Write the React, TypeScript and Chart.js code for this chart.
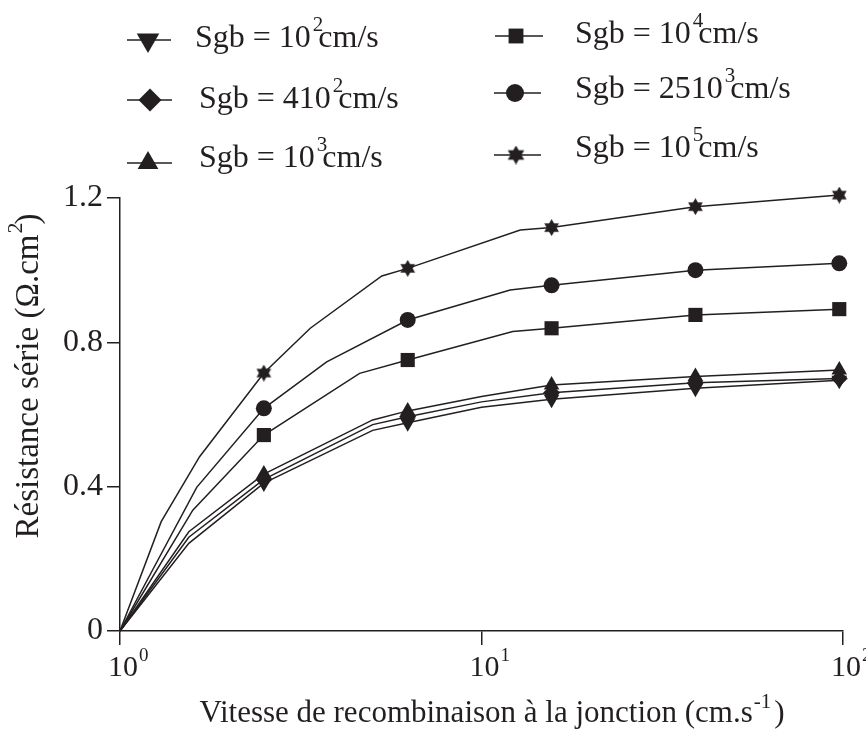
import React, { useEffect, useRef } from 'react';
import { Chart, registerables } from 'chart.js';
import { drawPoint } from 'chart.js/helpers';

Chart.register(...registerables);

const INK = '#231f20';
const FONT = '"Liberation Serif", "Times New Roman", serif';

// Recombination velocity at the junction (cm/s) where markers are drawn
const markerX = [2.5, 6.25, 15.625, 39.0625, 97.65625];

// Axis ticks
const xTickValues = [1, 10, 100];
const xTickExponents = ['0', '1', '2'];
const yTickValues = [0, 0.4, 0.8, 1.2];
const yTickLabels = ['0', '0.4', '0.8', '1.2'];

// Series resistance (Ω.cm²) for each grain-boundary recombination velocity
const sgb1e2X = [1, 1.55, 2.5, 5, 6.25, 10, 15.625, 39.0625, 97.65625];
const sgb1e2Y = [0, 0.243, 0.41, 0.556, 0.577, 0.62, 0.642, 0.673, 0.695];

const sgb4e2X = [1, 1.55, 2.5, 5, 6.25, 10, 15.625, 39.0625, 97.65625];
const sgb4e2Y = [0, 0.26, 0.42, 0.572, 0.594, 0.635, 0.66, 0.688, 0.7];

const sgb1e3X = [1, 1.55, 2.5, 5, 6.25, 10, 15.625, 39.0625, 97.65625];
const sgb1e3Y = [0, 0.275, 0.435, 0.585, 0.61, 0.65, 0.682, 0.705, 0.723];

const sgb1e4X = [1, 1.59, 2.5, 4.6, 6.25, 12.2, 15.625, 39.0625, 97.65625];
const sgb1e4Y = [0, 0.335, 0.543, 0.714, 0.751, 0.83, 0.839, 0.876, 0.892];

const sgb25e3X = [1, 1.63, 2.5, 3.73, 6.25, 12, 15.625, 39.0625, 97.65625];
const sgb25e3Y = [0, 0.398, 0.617, 0.746, 0.862, 0.945, 0.958, 1.0, 1.019];

const sgb1e5X = [1, 1.3, 1.66, 2.5, 3.36, 5.3, 6.25, 12.8, 15.625, 39.0625, 97.65625];
const sgb1e5Y = [0, 0.303, 0.483, 0.715, 0.839, 0.984, 1.005, 1.111, 1.118, 1.176, 1.208];

// Legend text: "Sgb = <mantissa>10^<exp> cm/s"
const legendBase = ['Sgb = 10', 'Sgb = 410', 'Sgb = 10', 'Sgb = 10', 'Sgb = 2510', 'Sgb = 10'];
const legendExp = ['2', '2', '3', '4', '3', '5'];
const legendUnit = 'cm/s';

const xTitleMain = 'Vitesse de recombinaison à la jonction (cm.s';
const xTitleExp = '-1';
const xTitleEnd = ')';
const yTitleMain = 'Résistance série (Ω.cm';
const yTitleExp = '2';
const yTitleEnd = ')';

type Part = { text: string; sup?: boolean; dx?: number };

function drawRich(
  ctx: CanvasRenderingContext2D,
  parts: Part[],
  x: number,
  y: number,
  size: number,
  supSize: number,
  raise: number,
  align: 'left' | 'center'
) {
  const widths = parts.map((p) => {
    ctx.font = `${p.sup ? supSize : size}px ${FONT}`;
    return ctx.measureText(p.text).width;
  });
  const total = parts.reduce((a, p, i) => a + (p.dx ?? 0) + widths[i], 0);
  let cx = align === 'center' ? x - total / 2 : x;
  ctx.textAlign = 'left';
  ctx.textBaseline = 'alphabetic';
  parts.forEach((p, i) => {
    cx += p.dx ?? 0;
    ctx.font = `${p.sup ? supSize : size}px ${FONT}`;
    ctx.fillText(p.text, cx, p.sup ? y - raise : y);
    cx += widths[i];
  });
}

function makeStar(size: number) {
  const c = document.createElement('canvas');
  c.width = size;
  c.height = size;
  const g = c.getContext('2d')!;
  const r = size / 2;
  g.fillStyle = INK;
  g.beginPath();
  for (let i = 0; i < 12; i++) {
    const ang = -Math.PI / 2 + (i * Math.PI) / 6;
    const rr = i % 2 === 0 ? r : r * 0.58;
    g.lineTo(r + rr * Math.cos(ang), r + rr * Math.sin(ang));
  }
  g.closePath();
  g.fill();
  return c;
}

export default function App() {
  const canvasRef = useRef<HTMLCanvasElement | null>(null);

  useEffect(() => {
    const canvas = canvasRef.current;
    if (!canvas) return;

    const starPoint = makeStar(17);
    const starLegend = makeStar(19);

    const series = [
      { x: sgb1e2X, y: sgb1e2Y, style: 'triangle' as any, rot: 180, r: 9 },
      { x: sgb4e2X, y: sgb4e2Y, style: 'rectRot' as any, rot: 0, r: 8.5 },
      { x: sgb1e3X, y: sgb1e3Y, style: 'triangle' as any, rot: 0, r: 9 },
      { x: sgb1e4X, y: sgb1e4Y, style: 'rect' as any, rot: 0, r: 10 },
      { x: sgb25e3X, y: sgb25e3Y, style: 'circle' as any, rot: 0, r: 8 },
      { x: sgb1e5X, y: sgb1e5Y, style: starPoint as any, rot: 0, r: 8 },
    ];

    // legend sample line, marker and label positions
    const legendLayout = [
      { x0: 127, x1: 171, mx: 148, ly: 40, tx: 195, ty: 47, r: 13, style: 'triangle', rot: 180 },
      { x0: 127, x1: 172, mx: 150, ly: 100, tx: 199, ty: 108, r: 11.5, style: 'rectRot', rot: 0 },
      { x0: 127, x1: 172, mx: 148, ly: 163, tx: 199, ty: 167, r: 12, style: 'triangle', rot: 0 },
      { x0: 495, x1: 543, mx: 516, ly: 36, tx: 575, ty: 43, r: 10.5, style: 'rect', rot: 0 },
      { x0: 494, x1: 541, mx: 515, ly: 93, tx: 575, ty: 98, r: 9, style: 'circle', rot: 0 },
      { x0: 494, x1: 541, mx: 516, ly: 155, tx: 575, ty: 157, r: 0, style: 'star', rot: 0 },
    ];

    const textPlugin = {
      id: 'figureText',
      afterDraw(chart: Chart) {
        const ctx = chart.ctx;
        const xs = chart.scales.x;
        ctx.save();
        ctx.fillStyle = INK;
        ctx.strokeStyle = INK;

        // legend
        legendLayout.forEach((l, i) => {
          ctx.lineWidth = 1.6;
          ctx.beginPath();
          ctx.moveTo(l.x0, l.ly);
          ctx.lineTo(l.x1, l.ly);
          ctx.stroke();
          const style = l.style === 'star' ? starLegend : l.style;
          drawPoint(ctx, { pointStyle: style as any, rotation: l.rot, radius: l.r || 9, borderWidth: 0 } as any, l.mx, l.ly);
          ctx.fillStyle = INK;
          drawRich(
            ctx,
            [
              { text: legendBase[i] },
              { text: legendExp[i], sup: true, dx: 2 },
              { text: legendUnit, dx: -5 },
            ],
            l.tx,
            l.ty,
            32,
            21,
            16,
            'left'
          );
        });

        // x tick labels 10^n
        xTickValues.forEach((v, i) => {
          const px = xs.getPixelForValue(v);
          drawRich(
            ctx,
            [{ text: '10' }, { text: xTickExponents[i], sup: true, dx: 1 }],
            px - 12,
            676,
            30,
            19,
            15,
            'left'
          );
        });

        // x axis title
        drawRich(
          ctx,
          [
            { text: xTitleMain },
            { text: xTitleExp, sup: true, dx: 1 },
            { text: xTitleEnd, dx: 3 },
          ],
          492,
          722,
          31,
          21,
          14,
          'center'
        );

        // y axis title (rotated)
        ctx.translate(38, 376);
        ctx.rotate(-Math.PI / 2);
        drawRich(
          ctx,
          [
            { text: yTitleMain },
            { text: yTitleExp, sup: true, dx: 1 },
            { text: yTitleEnd, dx: -2 },
          ],
          0,
          0,
          33,
          22,
          16,
          'center'
        );
        ctx.restore();
      },
    };

    const chart = new Chart(canvas, {
      type: 'line',
      data: {
        datasets: series.map((s, k) => ({
          label: legendBase[k] + legendExp[k],
          data: s.x.map((xv, i) => ({ x: xv, y: s.y[i] })),
          borderColor: INK,
          backgroundColor: INK,
          borderWidth: 1.5,
          tension: 0,
          clip: false,
          pointStyle: s.style,
          pointRotation: s.rot,
          pointRadius: s.x.map((xv) => (markerX.includes(xv) ? s.r : 0)),
          pointBackgroundColor: INK,
          pointBorderColor: INK,
          pointBorderWidth: 0,
        })),
      },
      options: {
        responsive: false,
        animation: false,
        events: [],
        layout: { padding: { top: 198, right: 23, left: 0, bottom: 0 } },
        plugins: { legend: { display: false }, tooltip: { enabled: false }, title: { display: false } },
        scales: {
          x: {
            type: 'logarithmic',
            min: 1,
            max: 100,
            afterBuildTicks: (s: any) => {
              s.ticks = xTickValues.map((v) => ({ value: v }));
            },
            ticks: { display: false },
            grid: { drawOnChartArea: false, drawTicks: true, tickLength: 14, color: INK, lineWidth: 1.5 },
            border: { display: true, color: INK, width: 1.5 },
            afterFit: (s: any) => {
              s.height = 100;
            },
          },
          y: {
            type: 'linear',
            min: 0,
            max: 1.2,
            afterBuildTicks: (s: any) => {
              s.ticks = yTickValues.map((v) => ({ value: v }));
            },
            ticks: {
              color: INK,
              font: { family: FONT, size: 32 },
              padding: 4,
              callback: (_v: any, i: number) => yTickLabels[i],
            },
            grid: { drawOnChartArea: false, drawTicks: true, tickLength: 13, color: INK, lineWidth: 1.5 },
            border: { display: true, color: INK, width: 1.5 },
            afterFit: (s: any) => {
              s.width = 120;
            },
          },
        },
      } as any,
      plugins: [textPlugin],
    });

    return () => chart.destroy();
  }, []);

  return (
    <div style={{ position: 'absolute', left: 0, top: 0, width: 866, height: 731, background: '#fff' }}>
      <canvas ref={canvasRef} width={866} height={731} style={{ display: 'block' }} />
    </div>
  );
}
